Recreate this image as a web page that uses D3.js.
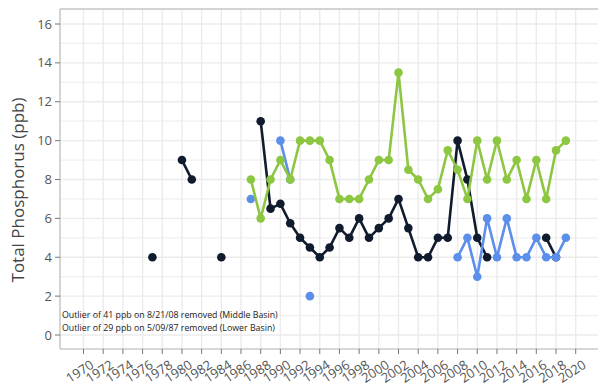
<!DOCTYPE html>
<html><head><meta charset="utf-8">
<script src="https://cdn.jsdelivr.net/npm/d3@7"></script>
<style>body{margin:0;background:#fff}svg{display:block}</style>
</head><body>
<svg id="chart" width="598" height="390"></svg>
<script>
const years = d3.range(1977, 2020);
const blackVals = [4,null,null,9,8,null,null,4,null,null,null,11,6.5,6.75,5.75,5,4.5,4,4.5,5.5,5,6,5,5.5,6,7,5.5,4,4,5,5,10,8,5,4,null,null,null,null,null,5,4,null];
const blueVals  = [null,null,null,null,null,null,null,null,null,null,7,null,null,10,8,null,2,null,null,null,null,null,null,null,null,null,null,null,null,null,null,4,5,3,6,4,6,4,4,5,4,4,5];
const greenVals = [null,null,null,null,null,null,null,null,null,null,8,6,8,9,8,10,10,10,9,7,7,7,8,9,9,13.5,8.5,8,7,7.5,9.5,8.5,7,10,8,10,8,9,7,9,7,9.5,10];
const seriesNames = ["Series A","Series B","Series C"];
const seriesColors = ["#101b2d","#5b8fea","#8dc640"];
const xTicks = d3.range(1970, 2021, 2);
const yTicks = d3.range(0, 17, 2);
const yMinor = d3.range(1, 17, 2);
const notes = ["Outlier of 41 ppb on 8/21/08 removed (Middle Basin)","Outlier of 29 ppb on 5/09/87 removed (Lower Basin)"];
const yTitle = "Total Phosphorus (ppb)";

const svg = d3.select("#chart");
const P = {l:60, t:9, r:600, b:349};
const x = d3.scaleLinear().domain([1970, 2020]).range([83.5, 575.7]);
const y = d3.scaleLinear().domain([0, 16]).range([335, 24]);

const g = svg.append("g");
g.selectAll("line.ym").data(yMinor).join("line")
  .attr("x1",P.l).attr("x2",P.r).attr("y1",d=>y(d)).attr("y2",d=>y(d))
  .attr("stroke","#f0f0f0").attr("stroke-width",1.2);
g.selectAll("line.yM").data(yTicks).join("line")
  .attr("x1",P.l).attr("x2",P.r).attr("y1",d=>y(d)).attr("y2",d=>y(d))
  .attr("stroke","#ebebeb").attr("stroke-width",1.4);
g.selectAll("line.xM").data(xTicks).join("line")
  .attr("y1",P.t).attr("y2",P.b).attr("x1",d=>x(d)).attr("x2",d=>x(d))
  .attr("stroke","#ebebeb").attr("stroke-width",1.4);

svg.append("line").attr("x1",P.l).attr("x2",P.r).attr("y1",P.t).attr("y2",P.t).attr("stroke","#c4c4c4").attr("stroke-width",1.6);
svg.append("line").attr("x1",P.l).attr("x2",P.l).attr("y1",P.t).attr("y2",P.b).attr("stroke","#b8b8b8").attr("stroke-width",1.2);
svg.append("line").attr("x1",P.l).attr("x2",P.r).attr("y1",P.b).attr("y2",P.b).attr("stroke","#b0b0b0").attr("stroke-width",1.2);

const ya = svg.append("g");
ya.selectAll("line").data(yTicks).join("line")
  .attr("x1",P.l-5).attr("x2",P.l).attr("y1",d=>y(d)).attr("y2",d=>y(d)).attr("stroke","#777").attr("stroke-width",1);
ya.selectAll("text").data(yTicks).join("text")
  .attr("x",P.l-8).attr("y",d=>y(d)).attr("dy","0.35em").attr("text-anchor","end")
  .attr("font-family","Open Sans, sans-serif").attr("font-size",13).attr("fill","#555").text(d=>d);

const xa = svg.append("g");
xa.selectAll("line").data(xTicks).join("line")
  .attr("y1",P.b).attr("y2",P.b+5).attr("x1",d=>x(d)).attr("x2",d=>x(d)).attr("stroke","#777").attr("stroke-width",1);
xa.selectAll("text").data(xTicks).join("text")
  .attr("transform",d=>`translate(${x(d)+6},${P.b+10}) rotate(-33)`)
  .attr("text-anchor","end").attr("dy","0.75em")
  .attr("font-family","Open Sans, sans-serif").attr("font-size",13).attr("fill","#555").text(d=>d);

svg.append("text").attr("transform",`translate(24,190) rotate(-90)`).attr("text-anchor","middle")
  .attr("font-family","Open Sans, sans-serif").attr("font-size",17).attr("fill","#444").text(yTitle);

const allVals = [blackVals, blueVals, greenVals];
const series = seriesNames.map((name,i)=>({name, color:seriesColors[i],
  pts: years.map((yr,j)=>({year:yr, v:allVals[i][j]}))}));
const line = d3.line().defined(d=>d.v!=null).x(d=>x(d.year)).y(d=>y(d.v));
series.forEach(s=>{
  const sg = svg.append("g");
  sg.append("path").attr("d",line(s.pts)).attr("fill","none").attr("stroke",s.color).attr("stroke-width",2.6).attr("stroke-linejoin","round");
  sg.selectAll("circle").data(s.pts.filter(d=>d.v!=null)).join("circle")
    .attr("cx",d=>x(d.year)).attr("cy",d=>y(d.v)).attr("r",4.3).attr("fill",s.color);
});

svg.selectAll("text.note").data(notes).join("text").attr("class","note")
  .attr("x",62).attr("y",(d,i)=>318+i*13)
  .attr("font-family","Open Sans, sans-serif").attr("font-size",8.8).attr("fill","#222").text(d=>d);
</script>
</body></html>
